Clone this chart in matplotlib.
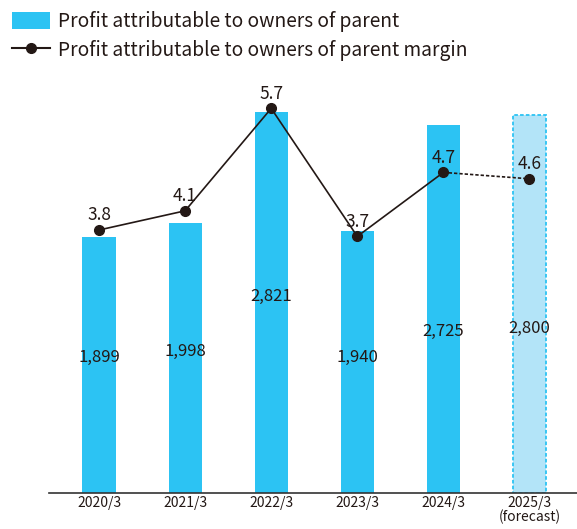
import matplotlib
matplotlib.use("Agg")
import matplotlib.pyplot as plt
from matplotlib.lines import Line2D
from matplotlib.patches import Patch

# Data
years = ["2020/3", "2021/3", "2022/3", "2023/3", "2024/3", "2025/3\n(forecast)"]
profit = [1899, 1998, 2821, 1940, 2725, 2800]
margin = [3.8, 4.1, 5.7, 3.7, 4.7, 4.6]
profit_labels = ["1,899", "1,998", "2,821", "1,940", "2,725", "2,800"]
margin_labels = ["3.8", "4.1", "5.7", "3.7", "4.7", "4.6"]

plt.rcParams["font.family"] = ["Noto Sans CJK JP", "DejaVu Sans"]

BAR = "#2cc3f3"
BAR_FC = "#b3e4f8"
INK = "#231815"

W, H = 577, 529
fig = plt.figure(figsize=(W / 100, H / 100), dpi=100)
ax = fig.add_axes([49 / W, 36 / H, 528 / W, 423 / H])

x = list(range(len(years)))
n_actual = len(years) - 1

# Bars: actual results solid, forecast light with dashed outline
ax.bar(x[:n_actual], profit[:n_actual], width=0.384, color=BAR, zorder=2)
ax.bar(x[n_actual], profit[n_actual], width=0.384, color=BAR_FC,
       edgecolor=BAR, linestyle=(0, (2, 1.2)), linewidth=1.3, zorder=2)

ax.set_xlim(-0.581, 5.552)
ax.set_ylim(0, 3133)

label_frac = [0.527, 0.523, 0.515, 0.519, 0.44, 0.436]
for xi, v, lab, f in zip(x, profit, profit_labels, label_frac):
    ax.text(xi, v * f, lab, ha="center", va="center", fontsize=12, color=INK, zorder=5)

for s in ["top", "left", "right"]:
    ax.spines[s].set_visible(False)
ax.spines["bottom"].set_color("#333333")
ax.spines["bottom"].set_linewidth(1.2)
ax.set_yticks([])
ax.set_xticks(x)
ax.set_xticklabels(years, fontsize=10, color=INK, linespacing=1.0)
ax.tick_params(axis="x", length=0, pad=2)

# Margin line on a secondary scale
ax2 = ax.twinx()
ax2.set_ylim(-0.309, 6.3)
ax2.axis("off")
ax2.plot(x[:n_actual], margin[:n_actual], color=INK, linewidth=1.2, zorder=3)
ax2.plot(x[n_actual - 1:], margin[n_actual - 1:], color=INK, linewidth=1.2,
         linestyle=(0, (2, 1.2)), zorder=3)
ax2.plot(x, margin, linestyle="none", marker="o", markersize=7, color=INK, zorder=4)
for xi, v, lab in zip(x, margin, margin_labels):
    ax2.annotate(lab, (xi, v), xytext=(0, 10.5), textcoords="offset points",
                 ha="center", va="center", fontsize=12.5, color=INK, zorder=5)

# Legend
handles = [
    Patch(facecolor=BAR, edgecolor="none"),
    Line2D([0], [0], color=INK, linewidth=1.5, marker="o", markersize=7),
]
fig.legend(handles,
           ["Profit attributable to owners of parent",
            "Profit attributable to owners of parent margin"],
           loc="upper left", bbox_to_anchor=(12 / W, 1 - 11 / H),
           frameon=False, fontsize=13.8, handlelength=2.0, handleheight=0.95,
           handletextpad=0.42, labelspacing=0.4, borderaxespad=0,
           borderpad=0, labelcolor=INK)

fig.savefig("out.png", dpi=100)
